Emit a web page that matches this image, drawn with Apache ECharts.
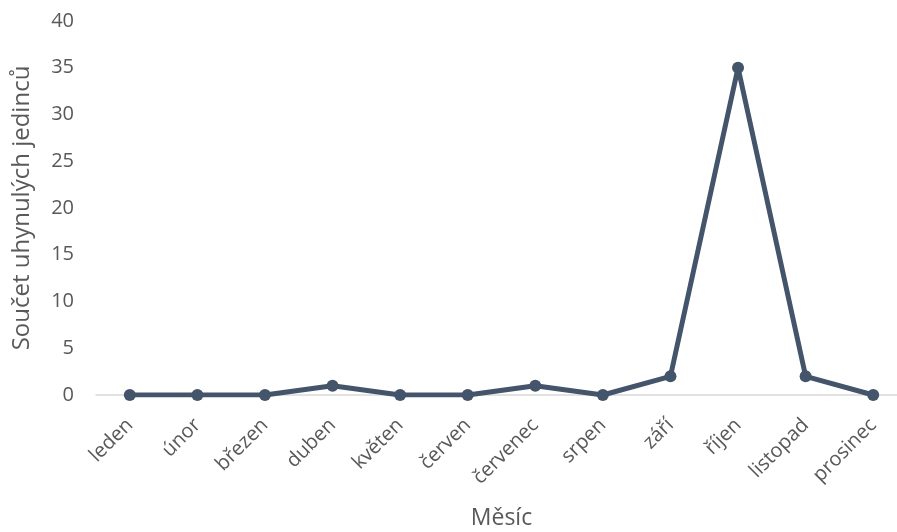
<!DOCTYPE html>
<html>
<head>
<meta charset="utf-8">
<script src="https://cdn.jsdelivr.net/npm/echarts@6/dist/echarts.min.js"></script>
<style>
  html, body { margin: 0; padding: 0; background: #fff; }
  #chart { width: 897px; height: 532px; }
</style>
</head>
<body>
<div id="chart"></div>
<script>
// Monthly totals of dead individuals
const months = ['leden', 'únor', 'březen', 'duben', 'květen', 'červen',
  'červenec', 'srpen', 'září', 'říjen', 'listopad', 'prosinec'];
const deaths = [0, 0, 0, 1, 0, 0, 1, 0, 2, 35, 2, 0];
const yTicks = { min: 0, max: 40, step: 5 };

const textColor = '#595959';
const font = '"Open Sans", "DejaVu Sans", sans-serif';

const chart = echarts.init(document.getElementById('chart'), null, { renderer: 'canvas' });
chart.setOption({
  animation: false,
  grid: { left: 96, right: -10, top: 21, bottom: 137, outerBoundsMode: 'none', containLabel: false },
  xAxis: {
    type: 'category',
    data: months,
    boundaryGap: true,
    name: 'Měsíc',
    nameLocation: 'middle',
    nameGap: 112,
    nameTextStyle: { color: textColor, fontSize: 23, fontFamily: font },
    axisLine: { lineStyle: { color: '#d9d9d9', width: 1.5 } },
    axisTick: { show: false },
    axisLabel: {
      rotate: 45,
      margin: 27,
      interval: 0,
      color: textColor,
      fontSize: 20,
      fontFamily: font
    }
  },
  yAxis: {
    type: 'value',
    min: yTicks.min,
    max: yTicks.max,
    interval: yTicks.step,
    name: 'Součet uhynulých jedinců',
    nameLocation: 'middle',
    nameGap: 62,
    nameTextStyle: { color: textColor, fontSize: 24, fontFamily: font },
    axisLine: { show: false },
    axisTick: { show: false },
    splitLine: { show: false },
    axisLabel: { color: textColor, fontSize: 20, fontFamily: font, margin: 22 }
  },
  series: [{
    type: 'line',
    data: deaths,
    symbol: 'circle',
    symbolSize: 12,
    lineStyle: { color: '#44546A', width: 5 },
    itemStyle: { color: '#44546A' }
  }]
});
</script>
</body>
</html>
